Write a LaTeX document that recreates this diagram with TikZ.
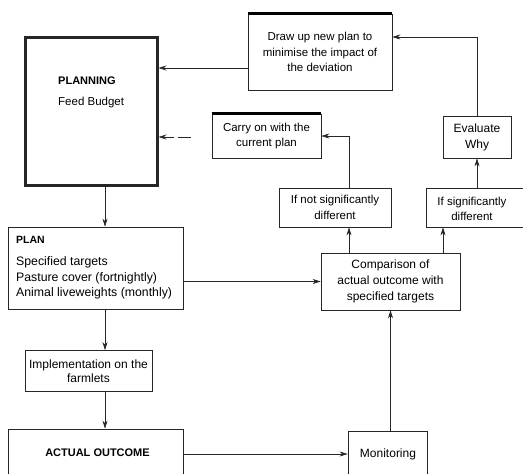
\documentclass[tikz,border=0pt]{standalone}
\usepackage{fontspec}
\setmainfont{Liberation Sans}
\usetikzlibrary{arrows.meta,calc}
\begin{document}
\begin{tikzpicture}[x=1pt,y=-1pt,
  conn/.style={line width=0.7pt,draw=black!85},
  arr/.style={conn,-{Stealth[length=8pt,width=5pt]}},
  box/.style={draw=black!85,line width=0.7pt,inner sep=0pt,align=center,
    font=\fontsize{11.5}{15.5}\selectfont},
  txt/.style={inner sep=0pt,align=center,font=\fontsize{11.5}{15.5}\selectfont},
  heavy/.style={line width=2.6pt}
]
\clip (0,0) rectangle (523,474);
\fill[white] (0,0) rectangle (523,474);
% helper levels
\coordinate (y37) at (0,37);
\coordinate (y68) at (0,68);
\coordinate (y137) at (0,137);
\coordinate (x105) at (105,0);
\coordinate (x349) at (349,0);
\coordinate (x443) at (443,0);
\coordinate (y454) at (0,454);
% boxes
\node[box,line width=3pt,minimum width=132,minimum height=148] (planning) at (91,111) {};
\node[txt,anchor=west,font=\fontsize{11}{14}\selectfont\bfseries] (planningt) at (58,81) {PLANNING};
\node[txt,anchor=west] (feedt) at (58,103) {Feed Budget};

\node[box,minimum width=144,minimum height=76] (drawup) at (320,52) {Draw up new plan to\\minimise the impact of\\the deviation};
\draw[heavy] (drawup.north west) -- (drawup.north east);

\node[box,minimum width=109,minimum height=44] (carry) at (266.5,136) {Carry on with the\\current plan};
\draw[heavy] (carry.north west) -- (carry.north east);

\node[box,minimum width=68,minimum height=42,font=\fontsize{12}{16}\selectfont] (eval) at (477,137) {Evaluate\\Why};

\node[box,minimum width=112,minimum height=39] (ifnot) at (335,207.5) {If not significantly\\different};

\node[box,minimum width=116,minimum height=39] (sig) at (484,207.5) {};
\node[txt] (sigt) at (472,209) {If significantly\\different};

\node[box,minimum width=139,minimum height=57,font=\fontsize{12}{16}\selectfont] (comp) at (390.5,281.5) {Comparison of\\actual outcome with\\specified targets};

\node[box,minimum width=175,minimum height=82] (plan) at (95.5,268) {};
\node[txt,anchor=west,font=\fontsize{10.5}{14}\selectfont\bfseries] (plant) at (16,240) {PLAN};
\node[txt,anchor=west,align=left,font=\fontsize{12.3}{15.5}\selectfont] (planl) at (16,278) {Specified targets\\Pasture cover (fortnightly)\\Animal liveweights (monthly)};

\node[box,minimum width=127,minimum height=41,font=\fontsize{12}{14.5}\selectfont] (impl) at (88.5,371) {Implementation on the\\farmlets};

\node[box,minimum width=175,minimum height=70] (actual) at (95.5,464) {};
\node[txt,font=\fontsize{11}{14}\selectfont\bfseries] (actualt) at (97.5,453) {ACTUAL OUTCOME};

\node[box,minimum width=79,minimum height=70] (mon) at (387.5,466) {};
\node[txt,font=\fontsize{12}{14}\selectfont] (mont) at (388,454) {Monitoring};

% connectors
\coordinate (dashstart) at (191,137);
\draw[arr] (drawup.west |- y68) -- (planning.east |- y68);
\draw[arr] (eval.north) |- (drawup.east |- y37);
\draw[arr] (sig.north -| eval.south) -- (eval.south);
\draw[arr] (ifnot.north -| x349) |- (carry.east);
\draw[arr,dash pattern=on 13pt off 4pt on 40pt off 0pt] (dashstart) -- (planning.east |- y137);
\draw[arr] (comp.north -| x349) -- (ifnot.south -| x349);
\draw[arr] (comp.north -| x443) -- (sig.south -| x443);
\draw[arr] (plan.east |- comp.west) -- (comp.west);
\draw[arr] (planning.south -| x105) -- (plan.north -| x105);
\draw[arr] (plan.south -| x105) -- (impl.north -| x105);
\draw[arr] (impl.south -| x105) -- (actual.north -| x105);
\draw[arr] (actual.east |- y454) -- (mon.west |- y454);
\draw[arr] (mon.north -| comp.south) -- (comp.south);
\end{tikzpicture}
\end{document}
